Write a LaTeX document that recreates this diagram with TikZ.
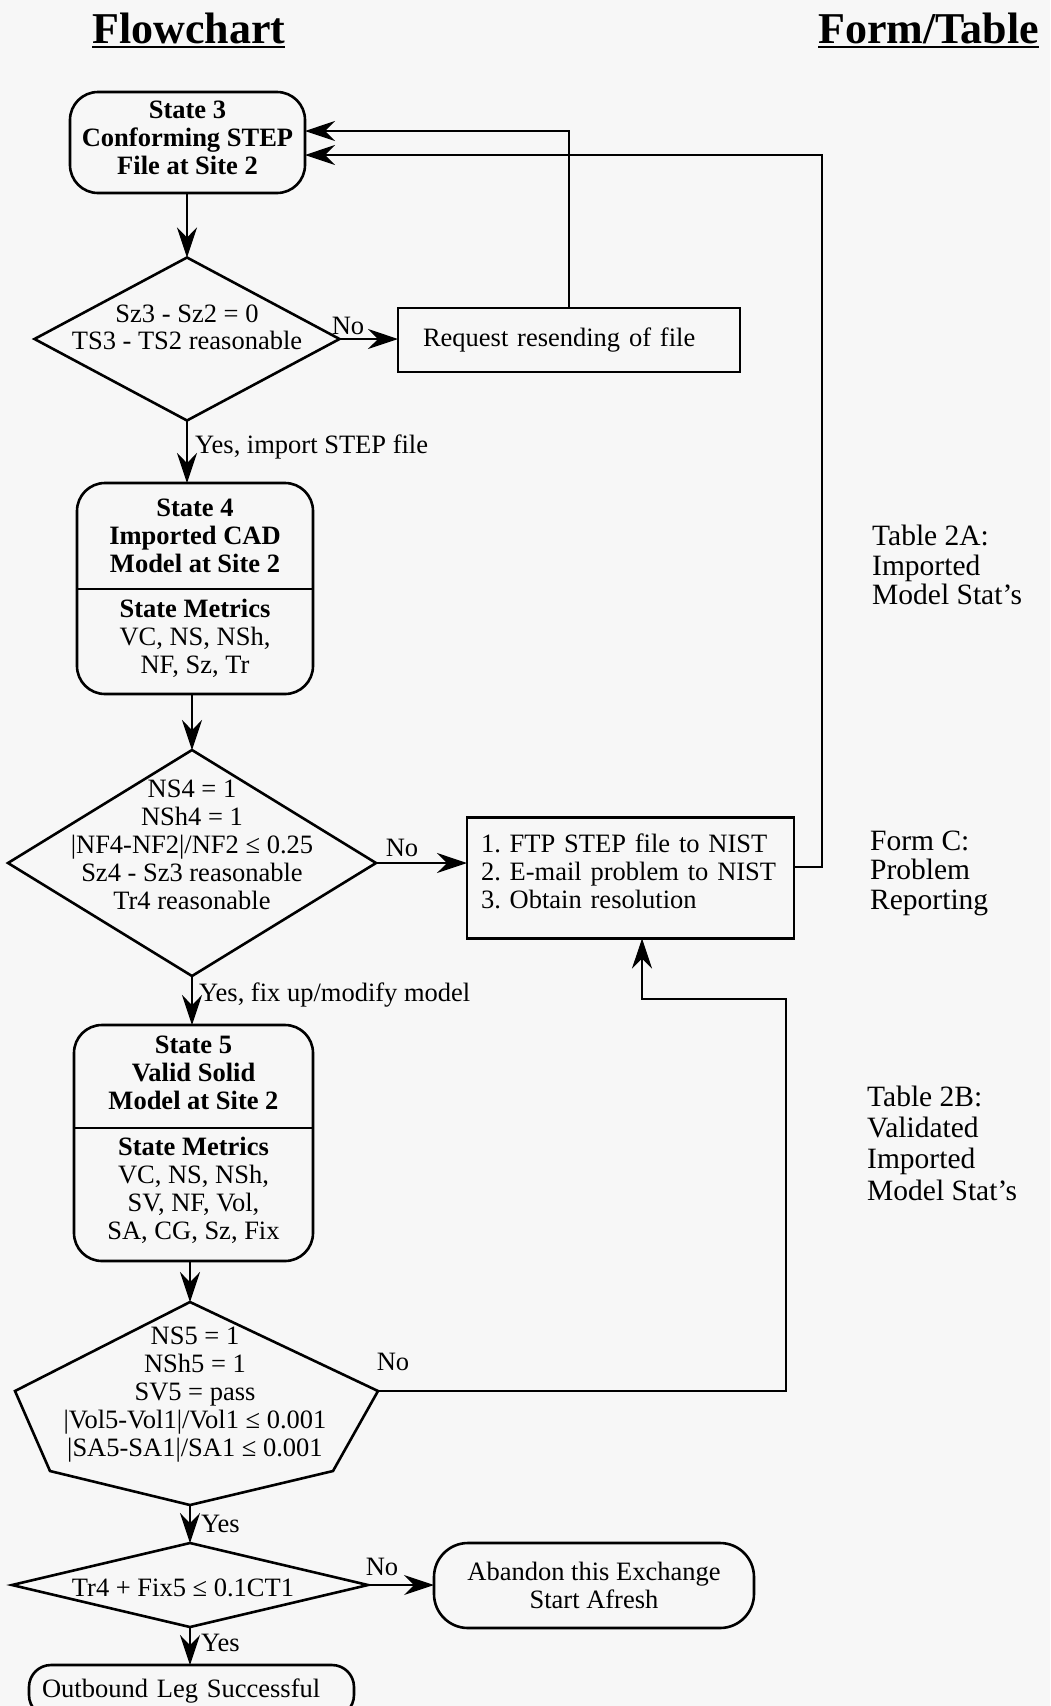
\documentclass[tikz,border=0pt]{standalone}
\usepackage{fontspec}
\setmainfont{Liberation Serif}
\usetikzlibrary{arrows.meta,shapes.geometric}
\definecolor{bg}{RGB}{247,247,247}
\begin{document}
\frenchspacing
\begin{tikzpicture}[x=1pt,y=-1pt,
  box/.style={draw, line width=2.6pt, inner sep=0pt, outer sep=0pt},
  rbox/.style={box, rounded corners=28pt},
  dia/.style={draw, diamond, line width=2.6pt, inner sep=0pt, outer sep=0pt},
  txt/.style={font=\fontsize{26.5}{28}\selectfont, align=center, inner sep=0pt},
  btxt/.style={txt, font=\fontsize{26.5}{28}\selectfont\bfseries},
  lab/.style={font=\fontsize{29.5}{29.5}\selectfont, align=left, anchor=west, inner sep=0pt},
  title/.style={font=\fontsize{44}{46}\selectfont\bfseries, anchor=base west, inner sep=0pt},
  divider/.style={line width=2.6pt},
  conn/.style={line width=1.1pt},
  arr/.style={conn, -{Stealth[length=30pt,width=20pt,inset=10pt]}}
]
\fill[bg] (0,0) rectangle (1050,1706);
\useasboundingbox (0,0) rectangle (1050,1706);

% titles
\node[title] (t1) at (92,43) {Flowchart};
\node[title] (t2) at (818,43) {Form/Table};
\draw[line width=2pt] ([yshift=-4pt]t1.base west) -- ([yshift=-4pt]t1.base east);
\draw[line width=2pt] ([yshift=-4pt]t2.base west) -- ([yshift=-4pt]t2.base east);

% State 3
\node[rbox, btxt, text depth=10pt, minimum width=235, minimum height=101] (s3) at (187.5,142.5) {State 3\\Conforming STEP\\File at Site 2};

% Decision 1
\node[dia, minimum width=305, minimum height=163] (d1) at (187,339) {};
\node[txt, font=\fontsize{26.5}{27}\selectfont] (d1t) at (187,327) {Sz3 - Sz2 = 0\\TS3 - TS2 reasonable};

% Request box
\node[box, txt, text width=292, inner xsep=25pt, minimum height=64, align=left] (req) at (569,340) {Request resending of file};

% State 4
\node[rbox, minimum width=236, minimum height=211] (s4) at (195,588.5) {};
\coordinate (s4div) at (0,589);
\draw[divider] (s4.west |- s4div) -- (s4.east |- s4div);
\node[btxt] (s4a) at (195,536) {State 4\\Imported CAD\\Model at Site 2};
\node[txt] (s4b) at (195,638) {\textbf{State Metrics}\\VC, NS, NSh,\\NF, Sz, Tr};

% Decision 2
\node[dia, minimum width=368, minimum height=226] (d2) at (192,863) {};
\node[txt] (d2t) at (192,845) {NS4 = 1\\NSh4 = 1\\|NF4-NF2|/NF2 ≤ 0.25\\Sz4 - Sz3 reasonable\\Tr4 reasonable};

% Form C box
\node[box, txt, text width=299, inner xsep=14pt, minimum height=121, text depth=70pt, align=left] (fc) at (630.5,878) {1. FTP STEP file to NIST\\2. E-mail problem to NIST\\3. Obtain resolution};

% State 5
\node[rbox, minimum width=239, minimum height=236] (s5) at (193.5,1143) {};
\coordinate (s5div) at (0,1128);
\draw[divider] (s5.west |- s5div) -- (s5.east |- s5div);
\node[btxt] (s5a) at (193.5,1073) {State 5\\Valid Solid\\Model at Site 2};
\node[txt] (s5b) at (193.5,1190) {\textbf{State Metrics}\\VC, NS, NSh,\\SV, NF, Vol,\\SA, CG, Sz, Fix};

% Hexagonal decision
\coordinate (ptop) at (190,1302);
\coordinate (pr) at (378,1391);
\coordinate (plr) at (333,1471);
\coordinate (pb) at (190,1505);
\coordinate (pll) at (50,1471);
\coordinate (pl) at (15,1391);
\draw[line width=2.6pt, line join=miter] (ptop) -- (pr) -- (plr) -- (pb) -- (pll) -- (pl) -- cycle;
\node[txt] (pt) at (195,1395) {NS5 = 1\\NSh5 = 1\\SV5 = pass\\|Vol5-Vol1|/Vol1 ≤ 0.001\\|SA5-SA1|/SA1 ≤ 0.001};

% Decision 3
\node[dia, minimum width=356, minimum height=84] (d3) at (190,1585) {};
\node[txt] (d3t) at (183,1588) {Tr4 + Fix5 ≤ 0.1CT1};

% Abandon
\node[box, rounded corners=34pt, txt, minimum width=320, minimum height=85] (ab) at (594,1585.5) {Abandon this Exchange\\Start Afresh};

% Outbound
\node[box, rounded corners=22pt, txt, text width=299, inner xsep=13pt, align=left, minimum height=52] (out) at (191.5,1691) {Outbound Leg Successful};

% right column labels
\node[lab] (l1) at (872,565) {Table 2A:\\Imported\\Model Stat's};
\node[lab] (l2) at (870,873) {Form C:\\Problem\\Reporting};
\node[lab, font=\fontsize{29.5}{31.3}\selectfont] (l3) at (867,1143) {Table 2B:\\Validated\\Imported\\Model Stat's};

% connectors
\draw[arr] (s3.south -| d1.north) -- (d1.north);
\draw[arr] (d1.east) -- (d1.east -| req.west);
\node[txt] (no1) at (348,326) {No};
\coordinate (r1) at (570,131);
\draw[arr] (req.north) |- (s3.east |- r1);
\coordinate (fcy) at (0,867);
\coordinate (r2) at (822,155);
\draw[arr] (fc.east |- fcy) -| (r2) -- (s3.east |- r2);

\draw[arr] (d1.south) -- (d1.south |- s4.north);
\node[txt, anchor=west] (y1) at (195,447) {Yes, import STEP file};

\draw[arr] (s4.south -| d2.north) -- (d2.north);
\draw[arr] (d2.east) -- (d2.east -| fc.west);
\node[txt] (no2) at (402,848) {No};

\draw[arr] (d2.south) -- (d2.south |- s5.north);
\node[txt, anchor=west] (y2) at (199,995) {Yes, fix up/modify model};

\draw[arr] (s5.south -| ptop) -- (ptop);
\coordinate (b1) at (786,999);
\coordinate (b2) at (642,999);
\draw[arr] (pr) -| (b1) -- (b2) -- (b2 |- fc.south);
\node[txt] (no3) at (393,1362) {No};

\draw[arr] (pb) -- (d3.north);
\node[txt, anchor=west] (y3) at (201,1524) {Yes};

\draw[arr] (d3.east) -- (d3.east -| ab.west);
\node[txt] (no4) at (382,1567) {No};

\draw[arr] (d3.south) -- (d3.south |- out.north);
\node[txt, anchor=west] (y4) at (201,1643) {Yes};
\end{tikzpicture}
\end{document}
